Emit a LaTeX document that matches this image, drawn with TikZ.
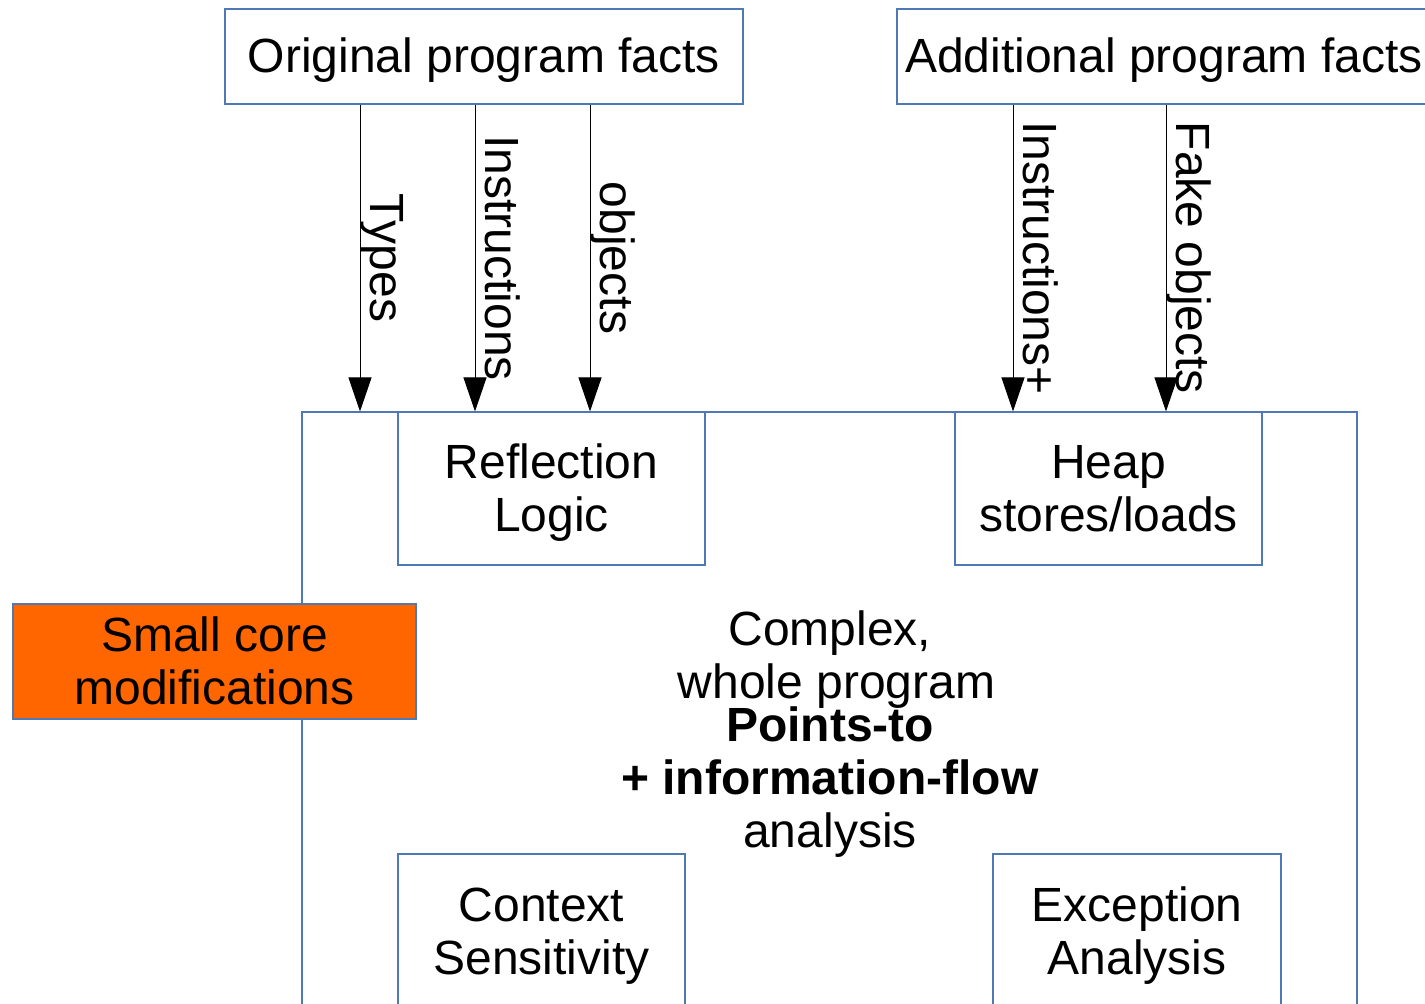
\documentclass[tikz,border=0pt]{standalone}
\usepackage{fontspec}
\setmainfont{Liberation Sans}
\usetikzlibrary{arrows.meta}
\definecolor{boxline}{RGB}{78,121,181}
\definecolor{coreorange}{RGB}{255,102,0}
% strut spanning one full text line (ascent + descent)
\newcommand\linestrut{\rule[-5.1pt]{0pt}{26.5pt}}

\begin{document}
\begin{tikzpicture}[x=0.5pt,y=-0.5pt,
  every node/.style={font={\fontsize{24}{26.5}\selectfont\lineskiplimit=-5pt}},
  block/.style={draw=boxline, line width=0.55pt, rectangle, inner sep=0pt,
                align=center, fill=white},
  plaintext/.style={inner sep=0pt, align=center},
  feed/.style={draw=black, line width=0.5pt,
               -{Triangle[length=17pt, width=11.5pt]}},
  edgelabel/.style={rotate=-90, anchor=base, inner sep=0pt}
]
\useasboundingbox (0,0) rectangle (1425,1004);
\clip (0,0) rectangle (1425,1004);

% analysis frame and its inner components
\node[block, minimum width=527.5pt, minimum height=314pt] (big) at (829.5,726) {};
\node[block, minimum width=153.5pt, minimum height=76.5pt] (refl) at (551.5,488.5)
  {\linestrut Reflection\\\linestrut Logic};
\node[block, minimum width=153.5pt, minimum height=76.5pt] (heap) at (1108.5,488.5)
  {\linestrut Heap\\\linestrut stores/loads};
\node[block, minimum width=143.5pt, minimum height=77.5pt] (ctx) at (541.5,931.5)
  {\linestrut Context\\\linestrut Sensitivity};
\node[block, minimum width=144pt, minimum height=77.5pt] (exc) at (1137,931.5)
  {\linestrut Exception\\\linestrut Analysis};

\node[plaintext] (desc) at (830,656.2)
  {\linestrut Complex,\\\linestrut\hspace*{6.5pt}whole program};
\node[plaintext] (pt) at (830,778.7)
  {\linestrut\textbf{Points-to}\\\linestrut\textbf{+ information-flow}\\\linestrut analysis};

% core modifications box
\node[block, fill=coreorange, minimum width=201.5pt, minimum height=57.5pt] (core) at (214.5,661.5)
  {\linestrut Small core\\\linestrut modifications};

% fact sources
\node[block, minimum width=259pt, minimum height=47.5pt] (orig) at (484,56.5)
  {\linestrut Original program facts};
\node[block, minimum width=267pt, minimum height=47.5pt] (add) at (1164,56.5)
  {\linestrut Additional program facts};

% feed lines
\coordinate (ct) at (360,258);
\coordinate (ci) at (475,258);
\coordinate (co) at (590,258);
\coordinate (ai) at (1013,258);
\coordinate (af) at (1166,258);

\draw[feed] (orig.south -| ct) -- (big.north -| ct);
\draw[feed] (orig.south -| ci) -- (big.north -| ci);
\draw[feed] (orig.south -| co) -- (big.north -| co);
\draw[feed] (add.south -| ai) -- (big.north -| ai);
\draw[feed] (add.south -| af) -- (big.north -| af);

\node[edgelabel] (lt) at ([xshift=5pt]ct) {Types};
\node[edgelabel] (li) at ([xshift=5pt]ci) {Instructions};
\node[edgelabel] (lo) at ([xshift=5pt]co) {objects};
\node[edgelabel] (lip) at ([xshift=5pt]ai) {Instructions+};
\node[edgelabel] (lf) at ([xshift=5pt]af) {Fake objects};
\end{tikzpicture}
\end{document}
